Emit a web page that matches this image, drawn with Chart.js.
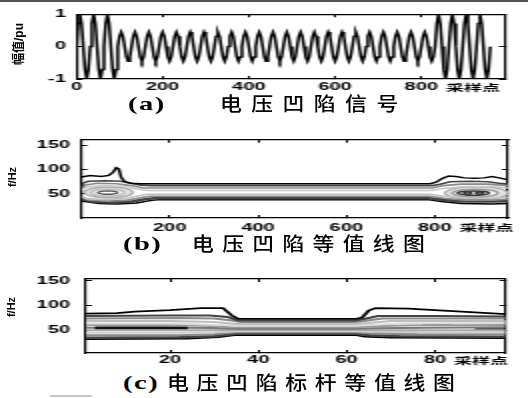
<!DOCTYPE html>
<html>
<head>
<meta charset="utf-8">
<script src="https://cdn.jsdelivr.net/npm/chart.js@4.4.1/dist/chart.umd.min.js"></script>
<style>
  body { margin: 0; background: #fff; }
  #page { position: relative; width: 528px; height: 398px; overflow: hidden; background: #fff; }
  .topline { position: absolute; left: 0; top: 0; width: 528px; height: 2px; background: #555; }
  .smudge { position: absolute; left: 50px; top: 395px; width: 42px; height: 2px; background: #c8c8c8; }
  /* the matlab plots in the source image are stretched sideways, so each canvas is drawn at half width */
  .panel { position: absolute; left: 0; transform: scaleX(2); transform-origin: 0 0; }
  .panel canvas { display: block; }
  .ytitle { position: absolute; font: bold 11px "Liberation Sans", "Noto Sans CJK SC", sans-serif; white-space: nowrap;
            transform: translate(-50%, -50%) rotate(-90deg); line-height: 1; }
  .tag { position: absolute; font: bold 19px "Liberation Serif", serif; line-height: 1; letter-spacing: 1px;
         transform: scaleX(1.5); transform-origin: 0 0; white-space: nowrap; }
  .cn { position: absolute; font: 500 19px "Noto Sans CJK SC", sans-serif; line-height: 1;
        transform: scaleX(1.15); transform-origin: 0 0; white-space: nowrap; }
</style>
</head>
<body>
<div id="page">
  <div class="topline"></div>
  <div class="panel" style="top:0px"><canvas id="sagChart" width="264" height="100"></canvas></div>
  <div class="panel" style="top:125px"><canvas id="contourChart" width="264" height="110"></canvas></div>
  <div class="panel" style="top:262px"><canvas id="benchChart" width="264" height="110"></canvas></div>

  <span class="ytitle" style="left:19px;top:44px;font-size:12px">幅值/pu</span>
  <span class="ytitle" style="left:12px;top:177px">f/Hz</span>
  <span class="ytitle" style="left:11px;top:307px">f/Hz</span>

  <span class="tag" style="left:128px;top:94px">(a)</span>
  <span class="cn" style="left:220px;top:93px;letter-spacing:8.2px">电压凹陷信号</span>
  <span class="tag" style="left:123px;top:234px">(b)</span>
  <span class="cn" style="left:192px;top:233px;letter-spacing:7.2px">电压凹陷等值线图</span>
  <span class="tag" style="left:123px;top:373px">(c)</span>
  <span class="cn" style="left:167px;top:372px;letter-spacing:6.7px">电压凹陷标杆等值线图</span>
  <div class="smudge"></div>
</div>

<script>
// ---- (a) voltage sag signal, one reading every 4 samples (32 samples per cycle) ----
const sampleStep = 4;
const sagSignal = [
  0, 0.71, 1, 0.71, 0, -0.71, -1, -0.71,
  0, 0.71, 1, 0.71, 0, -0.71, -1, -0.71,
  0, 0.71, 1, 0.71, 0, -0.71, -1, -0.71,
  0, 0.32, 0.45, 0.32, 0, -0.32, -0.45, -0.32,
  0, 0.32, 0.45, 0.32, 0, -0.32, -0.45, -0.32,
  0, 0.32, 0.45, 0.32, 0, -0.32, -0.45, -0.32,
  0, 0.32, 0.45, 0.32, 0, -0.32, -0.45, -0.32,
  0, 0.32, 0.45, 0.32, 0, -0.32, -0.45, -0.32,
  0, 0.32, 0.45, 0.32, 0, -0.32, -0.45, -0.32,
  0, 0.32, 0.45, 0.32, 0, -0.32, -0.45, -0.32,
  0, 0.32, 0.45, 0.32, 0, -0.32, -0.45, -0.32,
  0, 0.32, 0.45, 0.32, 0, -0.32, -0.45, -0.32,
  0, 0.32, 0.45, 0.32, 0, -0.32, -0.45, -0.32,
  0, 0.32, 0.45, 0.32, 0, -0.32, -0.45, -0.32,
  0, 0.32, 0.45, 0.32, 0, -0.32, -0.45, -0.32,
  0, 0.32, 0.45, 0.32, 0, -0.32, -0.45, -0.32,
  0, 0.32, 0.45, 0.32, 0, -0.32, -0.45, -0.32,
  0, 0.32, 0.45, 0.32, 0, -0.32, -0.45, -0.32,
  0, 0.32, 0.45, 0.32, 0, -0.32, -0.45, -0.32,
  0, 0.32, 0.45, 0.32, 0, -0.32, -0.45, -0.32,
  0, 0.32, 0.45, 0.32, 0, -0.32, -0.45, -0.32,
  0, 0.32, 0.45, 0.32, 0, -0.32, -0.45, -0.32,
  0, 0.32, 0.45, 0.32, 0, -0.32, -0.45, -0.32,
  0, 0.32, 0.45, 0.32, 0, -0.32, -0.45, -0.32,
  0, 0.32, 0.45, 0.32, 0, -0.32, -0.45, -0.32,
  0, 0.32, 0.45, 0.32, 0, -0.32, -0.45, -0.32,
  0, 0.71, 1, 0.71, 0, -0.71, -1, -0.71,
  0, 0.71, 1, 0.71, 0, -0.71, -1, -0.71,
  0, 0.71, 1, 0.71, 0, -0.71, -1, -0.71,
  0, 0.71, 1, 0.71, 0, -0.71, -1, -0.71,
  0
];

// tick labels
const aXTicks = [0, 200, 400, 600, 800];
const aYTicks = [-1, 0, 1];
const bXTicks = [200, 400, 600, 800];
const bYTicks = [50, 100, 150];
const cXTicks = [20, 40, 60, 80];
const cYTicks = [50, 100, 150];
const unitText = '采样点';

// ---- (b) contour lines, [sample, Hz] ----
const bUp1 = [[0,85],[20,88],[45,86],[62,88],[72,95],[79,104],[85,101],[90,84],[98,75],[112,72],[135,71],[790,71],[803,74],[818,82],[832,87],[848,86],[868,83],[890,82],[912,83],[930,86],[946,83],[966,79]];
const bUp2 = [[0,64],[4,72],[15,76],[55,77],[90,76],[112,72],[135,68],[160,67],[795,67],[812,70],[835,75],[880,76],[920,75],[945,72],[966,70]];
const bUp3 = [[0,62],[8,68],[35,72],[80,71],[112,67],[140,62],[795,62],[820,67],[860,70],[920,70],[966,67]];
const bUp4 = [[0,58],[12,64],[50,67],[95,65],[125,60],[150,57],[790,57],[820,61],[870,65],[930,65],[966,62]];
const bLo1 = [[0,46],[12,40],[50,38],[95,40],[125,45],[150,49],[790,49],[820,45],[870,41],[930,41],[966,43]];
const bLo2 = [[0,43],[18,37],[60,35],[105,37],[135,42],[155,45],[790,45],[820,41],[870,37],[930,37],[966,39]];
const bLo3 = [[0,39],[30,33],[70,32],[115,34],[145,39],[165,41],[785,41],[815,38],[860,34],[930,34],[966,35]];
const bLo4 = [[0,35],[40,30],[80,29],[125,31],[155,36],[175,38],[785,38],[815,34],[860,30],[930,29],[966,30]];
const bRingL1 = [[117,53],[110,58.5],[90,62.5],[62,64],[34,62.5],[14,58.5],[7,53],[14,47.5],[34,43.5],[62,42],[90,43.5],[110,47.5],[117,53]];
const bRingL2 = [[98,52.5],[93,56],[79,58.6],[60,59.5],[41,58.6],[27,56],[22,52.5],[27,49],[41,46.4],[60,45.5],[79,46.4],[93,49],[98,52.5]];
const bRingL3 = [[82,52.5],[79,54.3],[71,55.5],[60,56],[49,55.5],[41,54.3],[38,52.5],[41,50.7],[49,49.5],[60,49],[71,49.5],[79,50.7],[82,52.5]];
const bRingR1 = [[967,51.5],[957,58],[931,62.8],[895,64.5],[859,62.8],[833,58],[823,51.5],[833,45],[859,40.2],[895,38.5],[931,40.2],[957,45],[967,51.5]];
const bRingR2 = [[944,51.5],[937,55.5],[918,58.4],[892,59.5],[866,58.4],[847,55.5],[840,51.5],[847,47.5],[866,44.6],[892,43.5],[918,44.6],[937,47.5],[944,51.5]];
const bRingR3 = [[924,51.5],[919,53.8],[906,55.4],[888,56],[870,55.4],[857,53.8],[852,51.5],[857,49.3],[870,47.6],[888,47],[906,47.6],[919,49.3],[924,51.5]];
const bLoopR1 = [[884,51.5],[880,53.3],[875,53.8],[870,53.3],[866,51.5],[870,49.7],[875,49.2],[880,49.7],[884,51.5]];
const bLoopR2 = [[911,51.5],[907,53.3],[902,53.8],[897,53.3],[893,51.5],[897,49.7],[902,49.2],[907,49.7],[911,51.5]];

// ---- (c) benchmark contour lines, [sample, Hz] ----
const cUp1 = [[1,84],[8,85],[12,88],[20,91],[27,95],[32,95],[34,80],[35.5,73],[62,73],[63.5,76],[65,90],[66.5,95],[74,94],[82,90],[90,86],[96,83]];
const cUp2 = [[1,79],[20,80],[29,80],[33,77],[35.5,70],[62,70],[64.5,74],[67,79],[80,79],[96,78]];
const cUp3 = [[1,74],[22,75],[30,74],[34,70],[36,67],[62,67],[64,69],[68,74],[96,74]];
const cUp4 = [[1,69],[20,69],[30,67],[35,63],[62,63],[65,65],[70,69],[96,69]];
const cUp5 = [[1,64],[22,64],[31,61],[35,59],[62,59],[66,61],[72,64],[96,65]];
const cUp6 = [[1,61],[18,61],[28,59],[34,56],[62,56],[66,58],[75,60],[96,61]];
const cMidDark = [[3,55],[24,55]];
const cMid = [[1,55],[24,55],[30,54.5],[35,53],[62,53],[66,54],[78,55],[96,56]];
const cLo1 = [[1,50],[25,50],[34,50.5],[62,50.5],[70,50],[96,50]];
const cLo2 = [[1,45],[22,45],[30,46],[35,48],[62,48],[66,47],[75,46],[96,46]];
const cLo3 = [[1,40],[22,40],[30,42],[35,46],[62,46],[65,44],[72,42],[96,42]];
const cLo4 = [[1,35],[22,36],[30,38],[35,43],[62,43],[65,40],[72,38],[96,37]];
const cLo5 = [[1,32],[24,33],[31,36],[35,40.5],[62,40.5],[64,37],[70,35],[96,34]];
const cSegR1 = [[77,61],[84,61]];
const cSegR2 = [[89,51.5],[96,51.5]];
const cSegR3 = [[66,45],[76,45]];

const toPts = arr => arr.map(([x, y]) => ({x, y}));

// draws the "采样点" unit just right of the last x tick label
const unitLabel = {
  id: 'unitLabel',
  afterDraw(chart) {
    const xs = chart.scales.x;
    const last = xs.ticks[xs.ticks.length - 1];
    const ctx = chart.ctx;
    ctx.save();
    ctx.font = 'bold 10px "Liberation Sans", Arial, sans-serif';
    const lw = ctx.measureText(String(last.value)).width;
    const px = xs.getPixelForValue(last.value) + lw / 2 + 4;
    ctx.font = 'bold 9px "Noto Sans CJK SC", sans-serif';
    ctx.fillStyle = '#000';
    ctx.textBaseline = 'middle';
    ctx.fillText(unitText, px, xs.top + chart.options.scales.x.ticks.padding + 3);
    ctx.restore();
  }
};

// light grey filling inside the closed contour rings
const shapeFill = {
  id: 'shapeFill',
  beforeDatasetsDraw(chart) {
    const ctx = chart.ctx;
    const area = chart.chartArea;
    ctx.save();
    ctx.beginPath();
    ctx.rect(area.left, area.top, area.right - area.left, area.bottom - area.top);
    ctx.clip();
    chart.data.datasets.forEach((ds, i) => {
      if (!ds.shapeFill) return;
      const line = chart.getDatasetMeta(i).dataset;
      line.updateControlPoints(area);
      ctx.beginPath();
      line.path(ctx);
      ctx.closePath();
      ctx.fillStyle = ds.shapeFill;
      ctx.fill();
    });
    ctx.restore();
  }
};

function panel(canvasId, datasets, o) {
  const tickFont = {family: '"Liberation Sans", Arial, sans-serif', size: 10, weight: 'bold'};
  const grid = {drawOnChartArea: false, drawTicks: true, tickLength: -3, tickColor: '#000', lineWidth: 1};
  const border = {display: true, color: '#000', width: 1.2};
  const setTicks = vals => s => { s.ticks = vals.map(v => ({value: v})); };
  const xBase = {type: 'linear', min: o.xMin, max: o.xMax, grid, border, afterBuildTicks: setTicks(o.xTicks)};
  const yBase = {type: 'linear', min: o.yMin, max: o.yMax, grid, border, afterBuildTicks: setTicks(o.yTicks)};

  return new Chart(document.getElementById(canvasId), {
    type: 'line',
    data: {datasets: datasets},
    options: {
      responsive: false,
      animation: false,
      events: [],
      layout: {padding: 0},
      plugins: {legend: {display: false}, tooltip: {enabled: false}},
      elements: {point: {radius: 0}},
      scales: {
        x: {...xBase, position: 'bottom',
            ticks: {font: tickFont, color: '#000', padding: o.xPad, maxRotation: 0, autoSkip: false},
            afterFit: s => { s.height = o.bottom; }},
        x2: {...xBase, position: 'top', ticks: {display: false}, afterFit: s => { s.height = o.top; }},
        y: {...yBase, position: 'left',
            ticks: {font: tickFont, color: '#000', padding: o.yPad},
            afterFit: s => { s.width = o.left; }},
        y2: {...yBase, position: 'right', ticks: {display: false}, afterFit: s => { s.width = o.right; }}
      }
    },
    plugins: [shapeFill, unitLabel]
  });
}

const lineSet = (pts, color, width, tension, inside) => ({
  data: toPts(pts),
  borderColor: color,
  borderWidth: width,
  tension: tension || 0,
  fill: false,
  shapeFill: inside,
  xAxisID: 'x',
  yAxisID: 'y'
});

document.addEventListener('DOMContentLoaded', () => {

  // (a) signal
  panel('sagChart', [{
    data: sagSignal.map((v, i) => ({x: i * sampleStep, y: v})),
    borderColor: '#000',
    borderWidth: 1.5,
    fill: false,
    xAxisID: 'x',
    yAxisID: 'y'
  }], {xMin: 0, xMax: 994, yMin: -1, yMax: 1, xTicks: aXTicks, yTicks: aYTicks,
       left: 38.2, right: 11.5, top: 10, bottom: 21, xPad: 5.5, yPad: 8.2});

  // (b) contour of the sag
  panel('contourChart', [
    lineSet(bUp1, '#000', 1.5),
    lineSet(bUp2, '#444', 1.6),
    lineSet(bUp3, '#8a8a8a', 1.6),
    lineSet(bUp4, '#c8c8c8', 1.6),
    lineSet(bLo1, '#c0c0c0', 1.6),
    lineSet(bLo2, '#888', 1.6),
    lineSet(bLo3, '#444', 2.6),
    lineSet(bLo4, '#000', 1.5),
    lineSet(bRingL1, '#aaa', 1.4, 0.4, '#e2e2e2'),
    lineSet(bRingL2, '#bbb', 1.4, 0.4, '#eeeeee'),
    lineSet(bRingL3, '#555', 1.4, 0.4, '#ffffff'),
    lineSet(bRingR1, '#aaa', 1.4, 0.4, '#e2e2e2'),
    lineSet(bRingR2, '#999', 1.4, 0.4, '#eeeeee'),
    lineSet(bRingR3, '#333', 1.4, 0.4, '#f4f4f4'),
    lineSet(bLoopR1, '#222', 1.4, 0.4),
    lineSet(bLoopR2, '#222', 1.4, 0.4)
  ], {xMin: 0, xMax: 966, yMin: 0, yMax: 162, xTicks: bXTicks, yTicks: bYTicks,
      left: 40.7, right: 10, top: 12, bottom: 17, xPad: 7, yPad: 8.7});

  // (c) benchmark contour
  panel('benchChart', [
    lineSet(cUp1, '#000', 1.8),
    lineSet(cUp2, '#444', 2),
    lineSet(cUp3, '#8a8a8a', 2),
    lineSet(cUp4, '#bdbdbd', 2),
    lineSet(cUp5, '#dcdcdc', 2),
    lineSet(cUp6, '#999', 2),
    lineSet(cMidDark, '#111', 2.6),
    lineSet(cMid, '#777', 2),
    lineSet(cLo1, '#aaa', 2),
    lineSet(cLo2, '#cfcfcf', 2),
    lineSet(cLo3, '#8a8a8a', 2),
    lineSet(cLo4, '#444', 2.6),
    lineSet(cLo5, '#000', 1.8),
    lineSet(cSegR1, '#111', 2.2),
    lineSet(cSegR2, '#111', 2.6),
    lineSet(cSegR3, '#555', 2.2)
  ], {xMin: 1, xMax: 96, yMin: 4, yMax: 154, xTicks: cXTicks, yTicks: cYTicks,
      left: 43.05, right: 11.15, top: 13, bottom: 19, xPad: 4.3, yPad: 11});
});
</script>
</body>
</html>
